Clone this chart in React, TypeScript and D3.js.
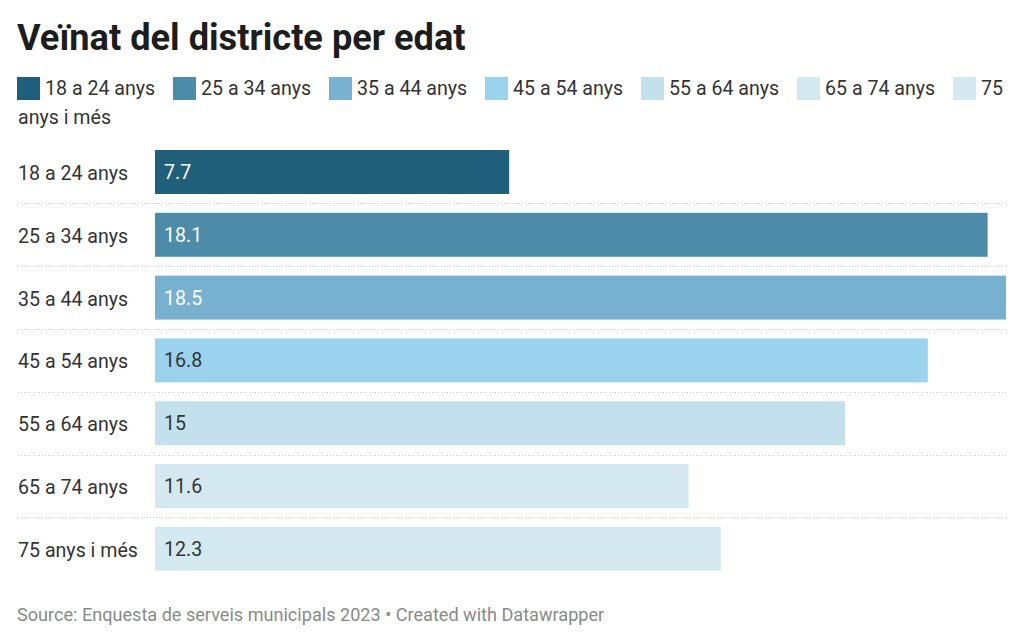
import React from "react";
import * as d3 from "d3";

const categories = ["18 a 24 anys", "25 a 34 anys", "35 a 44 anys", "45 a 54 anys", "55 a 64 anys", "65 a 74 anys", "75 anys i més"];
const values = [7.7, 18.1, 18.5, 16.8, 15, 11.6, 12.3];
const colors = ["#1f5f7a", "#4c8ca9", "#78b1d0", "#9bd2ee", "#c2e1ec", "#d4e9ef", "#d5eaf0"];
const labelOnDark = [true, true, true, false, false, false, false];

const W = 1024;
const H = 644;
const FONT = "Roboto, 'Noto Sans', sans-serif";
const FS = 19.6;

export default function App() {
  const x = d3.scaleLinear().domain([0, d3.max(values) as number]).range([155, 1006]);
  const y = d3.scaleBand<string>().domain(categories).range([140.6, 580.2]).paddingInner(0.3).paddingOuter(0.15);
  const step = y.step();
  const bw = y.bandwidth();

  const legendX = (i: number) => 17 + i * 156;

  return (
    <svg width={W} height={H} style={{ position: "absolute", left: 0, top: 0, background: "#fff" }} fontFamily={FONT}>
      <text x={17} y={50} fontSize={36.2} fontWeight={700} fill="#1d1d1d">Veïnat del districte per edat</text>
      {categories.map((c, i) => {
        const lx = legendX(i);
        const last = i === categories.length - 1;
        return (
          <g key={"lg" + i}>
            <rect x={lx} y={77} width={23} height={23} fill={colors[i]} />
            {last ? (
              <>
                <text x={lx + 28} y={95} fontSize={FS} fill="#333">75</text>
                <text x={18} y={124} fontSize={FS} fill="#333">anys i més</text>
              </>
            ) : (
              <text x={lx + 28} y={95} fontSize={FS} fill="#333">{c}</text>
            )}
          </g>
        );
      })}
      {categories.slice(0, -1).map((c, i) => {
        const sy = Math.round((y(c) as number) + bw + (step - bw) / 2) + 0.5;
        return <line key={"sep" + i} x1={18} x2={1006} y1={sy} y2={sy} stroke="#cfcfcf" strokeWidth={1} strokeDasharray="1,2" />;
      })}
      {categories.map((c, i) => {
        const by = y(c) as number;
        return (
          <g key={"bar" + i}>
            <text x={18} y={by + bw / 2 + 8} fontSize={FS} fill="#333">{c}</text>
            <rect x={x(0)} y={by} width={x(values[i]) - x(0)} height={bw} fill={colors[i]} />
            <text x={x(0) + 9} y={by + bw / 2 + 7} fontSize={FS} fill={labelOnDark[i] ? "#ffffff" : "#333"}>{values[i]}</text>
          </g>
        );
      })}
      <text x={17} y={621} fontSize={18.1} fill="#8a8a8a">Source: Enquesta de serveis municipals 2023 • Created with Datawrapper</text>
    </svg>
  );
}
